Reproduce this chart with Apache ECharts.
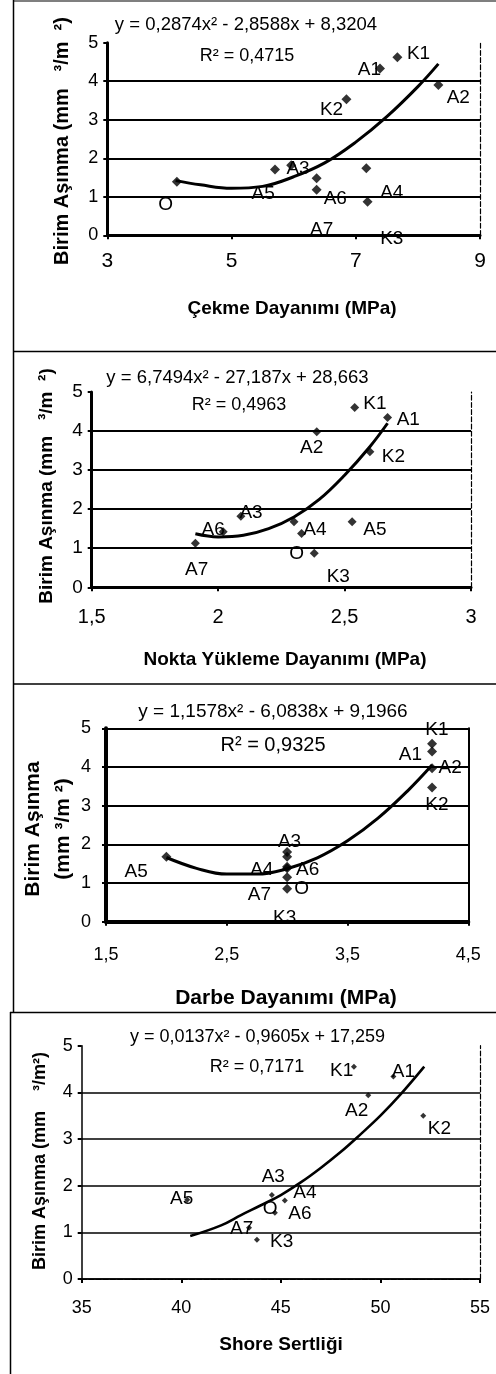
<!DOCTYPE html>
<html>
<head>
<meta charset="utf-8">
<script src="https://cdn.jsdelivr.net/npm/echarts@6.0.0/dist/echarts.min.js"></script>
<style>
html,body{margin:0;padding:0;background:#fff;}
#chart{width:496px;height:1374px;}
</style>
</head>
<body>
<div id="chart"></div>
<script>
// ---------- Data ----------
// Panel 1: Çekme Dayanımı
const p1X = [4.12, 5.70, 5.96, 6.37, 6.37, 7.17, 7.19, 6.85, 7.39, 7.67, 8.33];
const p1Y = [1.39, 1.71, 1.82, 1.48, 1.18, 1.74, 0.87, 3.53, 4.33, 4.62, 3.90];
const p1Names = ['O', 'A5', 'A3', 'A6', 'A7', 'A4', 'K3', 'K2', 'A1', 'K1', 'A2'];
const p1NameX = [3.94, 5.51, 6.07, 6.67, 6.45, 7.58, 7.58, 6.61, 7.22, 8.01, 8.65];
const p1NameY = [0.79, 1.09, 1.74, 0.96, 0.14, 1.11, -0.08, 3.25, 4.29, 4.72, 3.56];
const p1TrendX = [4.1, 4.5, 5.0, 5.5, 6.0, 6.5, 7.0, 7.5, 8.0, 8.33];
const p1TrendY = [1.42, 1.31, 1.22, 1.27, 1.52, 1.88, 2.42, 3.08, 3.86, 4.45];
const p1XTicks = [3, 5, 7, 9];

// Panel 2: Nokta Yükleme Dayanımı
const p2X = [1.91, 2.02, 2.09, 2.30, 2.33, 2.38, 2.53, 2.39, 2.54, 2.60, 2.67];
const p2Y = [1.13, 1.42, 1.82, 1.68, 1.38, 0.87, 1.68, 3.98, 4.60, 3.47, 4.35];
const p2Names = ['A7', 'A6', 'A3', 'A4', 'O', 'K3', 'A5', 'A2', 'K1', 'K2', 'A1'];
const p2NameX = [1.915, 1.98, 2.13, 2.383, 2.31, 2.475, 2.62, 2.37, 2.62, 2.693, 2.752];
const p2NameY = [0.44, 1.47, 1.91, 1.48, 0.87, 0.27, 1.47, 3.56, 4.71, 3.34, 4.28];
const p2TrendX = [1.91, 2.0, 2.1, 2.2, 2.3, 2.4, 2.5, 2.6, 2.67];
const p2TrendY = [1.37, 1.29, 1.33, 1.5, 1.8, 2.25, 2.87, 3.6, 4.2];
const p2XTicks = [1.5, 2, 2.5, 3];

// Panel 3: Darbe Dayanımı
const p3X = [2.0, 3.0, 3.0, 3.0, 3.0, 3.0, 3.0, 4.2, 4.2, 4.2, 4.2];
const p3Y = [1.68, 1.8, 1.68, 1.42, 1.38, 1.15, 0.85, 4.6, 4.4, 3.97, 3.47];
const p3Names = ['A5', 'A3', 'A4', 'A6', 'O', 'A7', 'K3', 'K1', 'A1', 'A2', 'K2'];
const p3NameX = [1.75, 3.02, 2.79, 3.17, 3.12, 2.77, 2.98, 4.24, 4.02, 4.35, 4.24];
const p3NameY = [1.29, 2.07, 1.34, 1.34, 0.86, 0.69, 0.09, 4.96, 4.31, 3.97, 3.02];
const p3TrendX = [2.0, 2.25, 2.5, 2.75, 3.0, 3.25, 3.5, 3.75, 4.0, 4.2];
const p3TrendY = [1.66, 1.38, 1.23, 1.23, 1.37, 1.65, 2.09, 2.67, 3.39, 4.05];
const p3XTicks = [1.5, 2.5, 3.5, 4.5];

// Panel 4: Shore Sertliği
const p4X = [40.3, 43.4, 43.8, 44.55, 44.7, 45.2, 48.67, 49.39, 50.65, 52.15];
const p4Y = [1.7, 1.1, 0.84, 1.8, 1.42, 1.68, 4.55, 3.94, 4.34, 3.5];
const p4Names = ['A5', 'A7', 'K3', 'O', 'A4', 'A6', 'A3', 'A2', 'K1', 'A1', 'K2'];
const p4NameX = [40.02, 43.03, 45.04, 44.46, 46.21, 45.96, 44.62, 48.81, 48.05, 51.15, 52.96];
const p4NameY = [1.71, 1.07, 0.80, 1.51, 1.84, 1.39, 2.19, 3.6, 4.46, 4.44, 3.23];
const p4TrendX = [40.45, 42, 43, 44, 45, 46, 47, 48, 49, 50, 51, 52.2];
const p4TrendY = [0.92, 1.15, 1.37, 1.58, 1.8, 2.07, 2.38, 2.72, 3.1, 3.5, 3.95, 4.55];
const p4XTicks = [35, 40, 45, 50, 55];

const yTicks = [0, 1, 2, 3, 4, 5];

const equations = [
  'y = 0,2874x² - 2,8588x + 8,3204',
  'y = 6,7494x² - 27,187x + 28,663',
  'y = 1,1578x² - 6,0838x + 9,1966',
  'y = 0,0137x² - 0,9605x + 17,259'
];
const r2Texts = ['R² = 0,4715', 'R² = 0,4963', 'R² = 0,9325', 'R² = 0,7171'];
const xTitles = ['Çekme Dayanımı (MPa)', 'Nokta Yükleme Dayanımı (MPa)', 'Darbe Dayanımı (MPa)', 'Shore Sertliği'];
const yTitles = ['Birim Aşınma (mm   ³/m  ²)', 'Birim Aşınma (mm   ³/m  ²)', 'Birim Aşınma\n(mm ³/m ²)', 'Birim Aşınma (mm    ³/m²)'];

// ---------- Build ----------
const FONT = '"Liberation Sans", Arial, sans-serif';
const zip = (a, b) => a.map((v, i) => [v, b[i]]);
const comma = v => String(v).replace('.', ',');

const panels = [
  {xs: p1X, ys: p1Y, nm: p1Names, nx: p1NameX, ny: p1NameY, tx: p1TrendX, ty: p1TrendY, ticks: p1XTicks,
   grid: {left: 107.3, top: 42.7, width: 372.7, height: 192.6},
   axisW: 3, gridW: 2, topDashed: true, sym: 10, xLabSize: 21, yLabSize: 18, xMargin: 15, yMargin: 9, labSize: 19, trendW: 3},
  {xs: p2X, ys: p2Y, nm: p2Names, nx: p2NameX, ny: p2NameY, tx: p2TrendX, ty: p2TrendY, ticks: p2XTicks,
   grid: {left: 91.7, top: 392, width: 379.3, height: 195.3},
   axisW: 3, gridW: 2, topDashed: true, sym: 9, xLabSize: 20, yLabSize: 19, xMargin: 20, yMargin: 9, labSize: 19, trendW: 3},
  {xs: p3X, ys: p3Y, nm: p3Names, nx: p3NameX, ny: p3NameY, tx: p3TrendX, ty: p3TrendY, ticks: p3XTicks,
   grid: {left: 106, top: 728.3, width: 362.3, height: 193.4},
   axisW: 4, gridW: 2, topDashed: false, sym: 10, xLabSize: 18, yLabSize: 18, xMargin: 24, yMargin: 15, labSize: 19, trendW: 3},
  {xs: p4X, ys: p4Y, nm: p4Names, nx: p4NameX, ny: p4NameY, tx: p4TrendX, ty: p4TrendY, ticks: p4XTicks,
   grid: {left: 81.7, top: 1045.7, width: 398.3, height: 233.3},
   axisW: 1.5, gridW: 1.5, topDashed: true, sym: 6, xLabSize: 18, yLabSize: 18, xMargin: 20, yMargin: 9, labSize: 19, trendW: 2.6}
];

const grid = [], xAxis = [], yAxis = [], series = [];
panels.forEach((p, i) => {
  grid.push(Object.assign({show: false}, p.grid));
  const xmin = p.ticks[0], xmax = p.ticks[p.ticks.length - 1];
  const step = p.ticks[1] - p.ticks[0];
  xAxis.push({
    type: 'value', gridIndex: i, position: 'bottom', min: xmin, max: xmax, interval: step,
    axisLine: {show: true, onZero: false, lineStyle: {color: '#000', width: p.axisW}},
    axisTick: {show: true, length: 4, lineStyle: {color: '#000', width: 2}},
    splitLine: {show: false},
    axisLabel: {color: '#000', fontSize: p.xLabSize, fontFamily: FONT, margin: p.xMargin, formatter: comma}
  });
  xAxis.push({
    type: 'value', gridIndex: i, position: 'top', min: xmin, max: xmax,
    axisLine: {show: true, lineStyle: {color: '#000', width: p.topDashed ? 1.2 : 2, type: p.topDashed ? 'dashed' : 'solid'}},
    axisTick: {show: false}, axisLabel: {show: false}, splitLine: {show: false}
  });
  yAxis.push({
    type: 'value', gridIndex: i, position: 'left', min: yTicks[0], max: yTicks[yTicks.length - 1], interval: 1,
    axisLine: {show: true, onZero: false, lineStyle: {color: '#000', width: p.axisW}},
    axisTick: {show: true, length: 4, lineStyle: {color: '#000', width: 2}},
    splitLine: {show: true, showMaxLine: !p.topDashed, lineStyle: {color: '#000', width: p.gridW}},
    axisLabel: {color: '#000', fontSize: p.yLabSize, fontFamily: FONT, margin: p.yMargin}
  });
  yAxis.push({
    type: 'value', gridIndex: i, position: 'right', min: yTicks[0], max: yTicks[yTicks.length - 1],
    axisLine: {show: true, lineStyle: {color: '#000', width: p.topDashed ? 1.2 : 2, type: p.topDashed ? 'dashed' : 'solid'}},
    axisTick: {show: false}, axisLabel: {show: false}, splitLine: {show: false}
  });
  series.push({
    type: 'line', xAxisIndex: 2 * i, yAxisIndex: 2 * i, data: zip(p.tx, p.ty), smooth: 0.4,
    showSymbol: false, symbol: 'none', lineStyle: {color: '#000', width: p.trendW}, silent: true, z: 3
  });
  series.push({
    type: 'scatter', xAxisIndex: 2 * i, yAxisIndex: 2 * i, data: zip(p.xs, p.ys),
    symbol: 'diamond', symbolSize: p.sym, itemStyle: {color: '#000'}, z: 4
  });
});

function txt(x, y, text, size, weight, rot, lh) {
  return {
    type: 'text', x: x, y: y, rotation: rot || 0, z: 10,
    style: {
      text: text, fill: '#000', font: (weight || 'normal') + ' ' + size + 'px ' + FONT,
      align: 'center', verticalAlign: 'middle', textAlign: 'center', textVerticalAlign: 'middle',
      lineHeight: lh || Math.round(size * 1.2)
    }
  };
}
function ln(x1, y1, x2, y2, w) {
  return {type: 'line', z: 10, shape: {x1: x1, y1: y1, x2: x2, y2: y2}, style: {stroke: '#000', lineWidth: w || 1.5}};
}
const R = Math.PI / 2;
const graphic = [
  // frames
  ln(13.5, 0, 13.5, 1012), ln(10.5, 1012, 10.5, 1374),
  ln(13, 1, 496, 1, 1.2), ln(13, 351.5, 496, 351.5), ln(13, 684, 496, 684), ln(10, 1012.5, 496, 1012.5),
  // equations & R²
  txt(246, 25, equations[0], 18.5), txt(247, 56, r2Texts[0], 18),
  txt(237.5, 377.5, equations[1], 18.5), txt(239, 405, r2Texts[1], 18),
  txt(273, 712, equations[2], 19), txt(273, 745, r2Texts[2], 20),
  txt(257.5, 1037, equations[3], 18), txt(257, 1067, r2Texts[3], 18),
  // x titles
  txt(292, 309, xTitles[0], 19, 'bold'),
  txt(285, 660, xTitles[1], 19, 'bold'),
  txt(286, 998, xTitles[2], 21, 'bold'),
  txt(281, 1345, xTitles[3], 19, 'bold'),
  // y titles
  txt(62, 141, yTitles[0], 20, 'bold', R),
  txt(47, 486, yTitles[1], 19, 'bold', R),
  txt(48, 829, yTitles[2], 21, 'bold', R, 30),
  txt(40, 1161, yTitles[3], 18, 'bold', R)
];

const chart = echarts.init(document.getElementById('chart'), null, {renderer: 'canvas'});
chart.setOption({
  animation: false,
  backgroundColor: '#fff',
  grid: grid, xAxis: xAxis, yAxis: yAxis, series: series, graphic: graphic
});

// Sample-name labels, positioned through each panel's own axes
const labelGraphics = [];
panels.forEach((p, i) => {
  p.nm.forEach((n, k) => {
    const pt = chart.convertToPixel({xAxisIndex: 2 * i, yAxisIndex: 2 * i}, [p.nx[k], p.ny[k]]);
    labelGraphics.push(txt(pt[0], pt[1], n, p.labSize));
  });
});
chart.setOption({graphic: graphic.concat(labelGraphics)});
</script>
</body>
</html>
